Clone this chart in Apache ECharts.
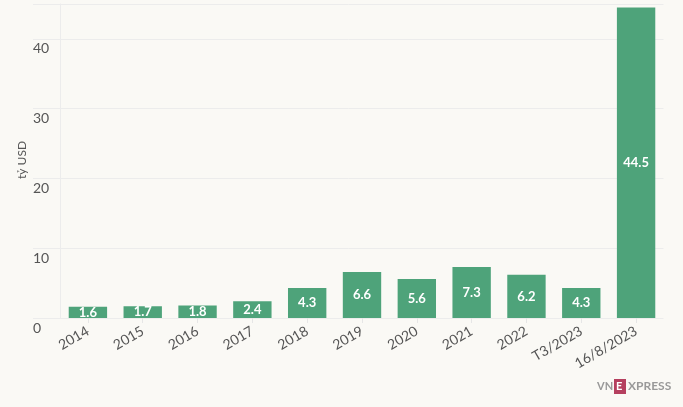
<!DOCTYPE html>
<html><head><meta charset="utf-8">
<script src="https://cdn.jsdelivr.net/npm/echarts@6/dist/echarts.min.js"></script>
<style>html,body{margin:0;padding:0;background:#faf9f5}#c{width:683px;height:407px}</style>
</head><body><div id="c"></div>
<script>
const categories = ['2014','2015','2016','2017','2018','2019','2020','2021','2022','T3/2023','16/8/2023'];
const values = [1.6,1.7,1.8,2.4,4.3,6.6,5.6,7.3,6.2,4.3,44.5];
const yTicks = [0,10,20,30,40];
const yName = 'tỷ USD';

const FONT = 'Lato, "Noto Sans", sans-serif';
const chart = echarts.init(document.getElementById('c'));
chart.setOption({
  backgroundColor: '#faf9f5',
  animation: false,
  textStyle: { fontFamily: FONT },
  grid: [
    { left: 60.5, right: 19.5, top: 4, bottom: 89 },
    { left: 33, right: 19.5, top: 4, bottom: 89 }
  ],
  xAxis: [
    { type: 'category', gridIndex: 0, data: categories,
      axisLine: { show: false },
      axisTick: { show: true, alignWithLabel: true, length: 5, lineStyle: { color: '#e6e6e6' } },
      axisLabel: { rotate: 30, color: '#555', fontSize: 14, margin: 12, fontFamily: FONT, interval: 0 } },
    { type: 'value', gridIndex: 1, show: false, min: 0, max: 1 }
  ],
  yAxis: [
    { type: 'value', gridIndex: 0, min: 0, max: 45, interval: 10,
      axisLine: { show: true, lineStyle: { color: '#ececec', width: 1 } },
      axisTick: { show: false }, axisLabel: { show: false }, splitLine: { show: false } },
    { type: 'value', gridIndex: 1, min: 0, max: 45, interval: 10,
      axisLine: { show: false }, axisTick: { show: false },
      splitLine: { show: true, lineStyle: { color: '#ececec', width: 1 } },
      axisLabel: { inside: true, margin: 0, verticalAlign: 'top', padding: [3,0,0,0], color: '#555', fontSize: 14, fontFamily: FONT,
        formatter: v => yTicks.includes(v) ? String(v) : '' } }
  ],
  series: [{
    type: 'bar', xAxisIndex: 0, yAxisIndex: 0, data: values, barWidth: '70%',
    itemStyle: { color: '#4ea37a' },
    label: { show: true, position: 'inside', color: '#fff', fontWeight: 'bold', fontSize: 13, fontFamily: FONT,
      formatter: p => String(p.value) }
  }],
  graphic: [
    { type: 'text', x: 22, y: 160, rotation: Math.PI/2, style: { text: yName, fill: '#555', fontSize: 12, fontFamily: FONT, align: 'center', verticalAlign: 'middle' } },
    { type: 'text', left: 597, top: 381, style: { text: 'VN', fill: '#999', fontSize: 11, fontFamily: FONT, fontWeight: 'bold' } },
    { type: 'rect', left: 614, top: 379, shape: { width: 12, height: 15 }, style: { fill: '#b5405f' } },
    { type: 'text', left: 616, top: 381, style: { text: 'E', fill: '#fff', fontSize: 11, fontFamily: FONT, fontWeight: 'bold' } },
    { type: 'text', left: 628, top: 380, style: { text: 'XPRESS', fill: '#999', fontSize: 12, fontFamily: FONT, fontWeight: 'bold' } }
  ]
});
</script></body></html>
